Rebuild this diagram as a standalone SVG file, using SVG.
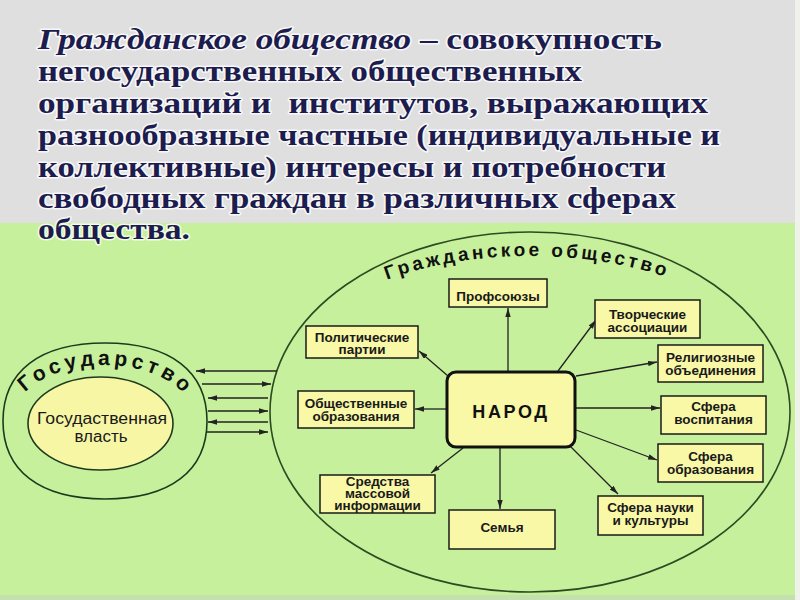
<svg xmlns="http://www.w3.org/2000/svg" width="800" height="600" viewBox="0 0 800 600">
<defs>
<style>
.hdr{font-family:"Liberation Serif","Times New Roman",serif;font-weight:bold;font-size:30px;fill:#1c1c4e;stroke:#ffffff;stroke-width:3px;stroke-opacity:0.75;paint-order:stroke;stroke-linejoin:round}
.box{fill:#f8f8a6;stroke:#1a1a1a;stroke-width:1.5}
.lbl{font-family:"Liberation Sans",Arial,sans-serif;font-weight:bold;font-size:13.5px;fill:#1a1a1a;text-anchor:middle}
.arc{font-family:"Liberation Sans",Arial,sans-serif;font-weight:bold;fill:#111}
.ln{stroke:#222;stroke-width:1.3;fill:none;marker-end:url(#ah)}
</style>
<marker id="ah" viewBox="0 0 10 6" refX="10" refY="3" markerWidth="9" markerHeight="5.4" markerUnits="userSpaceOnUse" orient="auto">
<path d="M0,0 L10,3 L0,6 z" fill="#222"/>
</marker>
<path id="stArc" d="M 13,420 A 91,55 0 0 1 195,420"/>
<path id="civArc" d="M 290,376 A 240,120 0 0 1 770,376"/>
</defs>

<rect x="0" y="0" width="800" height="224" fill="#dfdfdf"/>
<rect x="0" y="223" width="800" height="377" fill="#c7f09c"/>
<rect x="0" y="595" width="800" height="5" fill="#c4e0ac"/>
<rect x="795" y="0" width="5" height="600" fill="#eef2ea"/>

<g id="header">
<text class="hdr" x="38" y="49" textLength="624" lengthAdjust="spacingAndGlyphs"><tspan font-style="italic">Гражданское общество</tspan> – совокупность</text>
<text class="hdr" x="38" y="81" textLength="544" lengthAdjust="spacingAndGlyphs">негосударственных общественных</text>
<text class="hdr" x="38" y="113" textLength="670" lengthAdjust="spacingAndGlyphs" xml:space="preserve">организаций и  институтов, выражающих</text>
<text class="hdr" x="38" y="145" textLength="682" lengthAdjust="spacingAndGlyphs">разнообразные частные (индивидуальные и</text>
<text class="hdr" x="38" y="177" textLength="628" lengthAdjust="spacingAndGlyphs">коллективные) интересы и потребности</text>
<text class="hdr" x="38" y="208" textLength="638" lengthAdjust="spacingAndGlyphs">свободных граждан в различных сферах</text>
<text class="hdr" x="38" y="239" textLength="152" lengthAdjust="spacingAndGlyphs">общества.</text>
</g>

<g id="state">
<path d="M207,421 C207,371.1 170.3,343 105,343 C39.7,343 3,371.1 3,421 C3,470.9 39.7,499 105,499 C170.3,499 207,470.9 207,421 Z" fill="#c7f09c" stroke="#1e3a1e" stroke-width="1.6"/>
<text class="arc" font-size="21px" letter-spacing="4"><textPath href="#stArc" startOffset="51%" text-anchor="middle">Государство</textPath></text>
</g>
<g id="power">
<ellipse cx="100.5" cy="423.5" rx="72.5" ry="46.5" fill="#f6f6a4" stroke="#1e3a1e" stroke-width="1.6"/>
<text font-family="Liberation Sans, Arial, sans-serif" font-size="16px" fill="#1a1a1a" text-anchor="middle"><tspan x="102" y="424" textLength="130" lengthAdjust="spacingAndGlyphs">Госудаственная</tspan><tspan x="101" y="442" textLength="53" lengthAdjust="spacingAndGlyphs">власть</tspan></text>
</g>

<g id="civil">
<ellipse cx="530" cy="412" rx="260" ry="180" fill="none" stroke="#2e4a22" stroke-width="1.6"/>
<text class="arc" font-size="19px" letter-spacing="3.3"><textPath href="#civArc" startOffset="49.5%" text-anchor="middle">Гражданское общество</textPath></text>
</g>

<g id="connectors">
<path class="ln" d="M277,371 L196,371"/>
<path class="ln" d="M202,384 L271,384"/>
<path class="ln" d="M268,398 L208,398"/>
<path class="ln" d="M208,411 L268,411"/>
<path class="ln" d="M268,422 L208,422"/>
<path class="ln" d="M207,432 L268,432"/>
<path class="ln" d="M508,372 L508,308"/>
<path class="ln" d="M448,376 L419,351"/>
<path class="ln" d="M558,371 L596,320"/>
<path class="ln" d="M576,376 L657,362"/>
<path class="ln" d="M446,409 L415,409"/>
<path class="ln" d="M576,408 L660,408"/>
<path class="ln" d="M576,430 L657,460"/>
<path class="ln" d="M570,446 L618,494"/>
<path class="ln" d="M500,448 L500,509"/>
<path class="ln" d="M463,448 L431,473"/>
</g>

<g id="narod">
<rect x="447" y="372" width="128" height="75" rx="9" fill="#f8f8a6" stroke="#111" stroke-width="3"/>
<text x="511" y="418" font-family="Liberation Sans, Arial, sans-serif" font-weight="bold" font-size="18px" letter-spacing="2.6" fill="#111" text-anchor="middle">НАРОД</text>
</g>

<g id="profsoyuzy">
<rect class="box" x="449" y="279" width="98" height="28"/>
<text class="lbl" x="498" y="301">Профсоюзы</text>
</g>
<g id="tvorcheskie">
<rect class="box" x="595" y="300" width="105" height="38"/>
<text class="lbl"><tspan x="647.5" y="318.5">Творческие</tspan><tspan x="647.5" y="331.5">ассоциации</tspan></text>
</g>
<g id="politicheskie">
<rect class="box" x="306" y="326" width="112" height="32"/>
<text class="lbl"><tspan x="362" y="341.5">Политические</tspan><tspan x="362" y="354">партии</tspan></text>
</g>
<g id="religioznye">
<rect class="box" x="658" y="345" width="105" height="37"/>
<text class="lbl"><tspan x="710.5" y="361.5">Религиозные</tspan><tspan x="710.5" y="375">объединения</tspan></text>
</g>
<g id="obshchestvennye">
<rect class="box" x="298" y="391" width="116" height="37"/>
<text class="lbl"><tspan x="356" y="407.5">Общественные</tspan><tspan x="356" y="420.5">образования</tspan></text>
</g>
<g id="vospitanie">
<rect class="box" x="661" y="396" width="105" height="38"/>
<text class="lbl"><tspan x="713.5" y="411">Сфера</tspan><tspan x="713.5" y="424">воспитания</tspan></text>
</g>
<g id="obrazovanie">
<rect class="box" x="658" y="444" width="105" height="38"/>
<text class="lbl"><tspan x="710.5" y="460.5">Сфера</tspan><tspan x="710.5" y="474">образования</tspan></text>
</g>
<g id="smi">
<rect class="box" x="320" y="475" width="115" height="38"/>
<text class="lbl" font-size="13px"><tspan x="377.5" y="485.5">Средства</tspan><tspan x="377.5" y="497.5">массовой</tspan><tspan x="377.5" y="509.5">информации</tspan></text>
</g>
<g id="semya">
<rect class="box" x="449" y="510" width="106" height="39"/>
<text class="lbl" x="502" y="532">Семья</text>
</g>
<g id="nauka">
<rect class="box" x="598" y="496" width="105" height="39"/>
<text class="lbl"><tspan x="650.5" y="512">Сфера науки</tspan><tspan x="650.5" y="525">и культуры</tspan></text>
</g>
</svg>
